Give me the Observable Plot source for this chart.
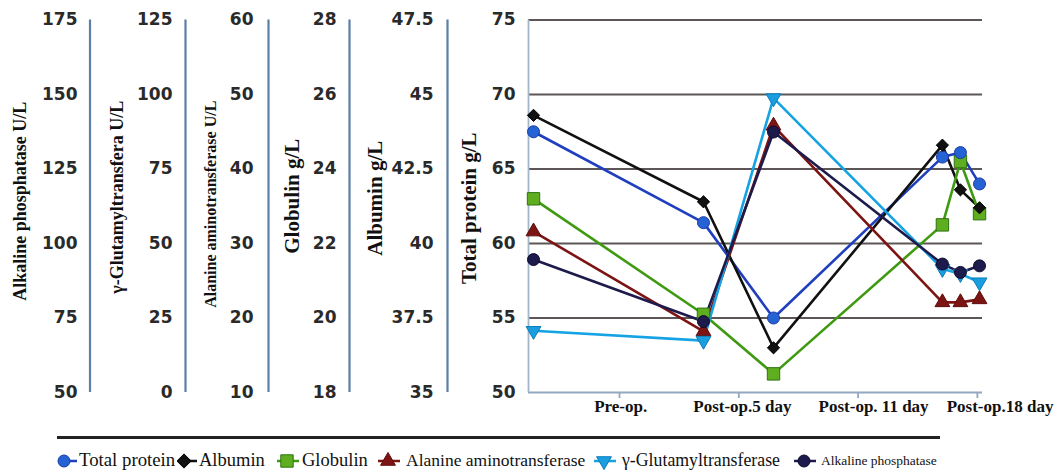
<!DOCTYPE html>
<html>
<head>
<meta charset="utf-8">
<script src="https://cdn.jsdelivr.net/npm/d3@7"></script>
<script src="https://cdn.jsdelivr.net/npm/@observablehq/plot@0.6"></script>
<style>
  html, body { margin: 0; padding: 0; background: #fff; }
  #wrap { position: relative; width: 1058px; height: 476px; overflow: hidden; }
  .leg { position: absolute; top: 449px; height: 22px; line-height: 22px; font-family: "Liberation Serif", "DejaVu Serif", serif; font-size: 18px; color: #111; white-space: nowrap; }
  .icon { position: absolute; top: 452px; }
</style>
</head>
<body>
<div id="wrap"></div>
<script>
// ---------- data ----------
const xTicks = [1, 2, 3, 4];
const xTickLabels = ["Pre-op.", "Post-op.5 day", "Post-op. 11 day", "Post-op.18 day"];
const xLabelPos = [1.01, 2.03, 3.13, 4.19];
const xPoints = [0.279, 1.704, 2.291, 3.707, 3.858, 4.018];

const seriesNames = ["Total protein", "Albumin", "Globulin", "Alanine aminotransferase", "γ-Glutamyltransferase", "Alkaline phosphatase"];

const totalProtein = [67.5, 61.4, 55.0, 65.8, 66.1, 64.0];
const albumin      = [44.3, 41.4, 36.5, 43.3, 41.8, 41.2];
const globulin     = [23.2, 20.1, 18.5, 22.5, 24.2, 22.8];
const alt          = [31.6, 18.2, 45.8, 22.1, 22.1, 22.5];
const ggt          = [20.7, 17.4, 98.8, 41.5, 39.8, 37.0];
const alp          = [94.6, 73.8, 137.4, 93.1, 90.3, 92.5];

const apTicks  = [50, 75, 100, 125, 150, 175];
const ggtTicks = [0, 25, 50, 75, 100, 125];
const altTicks = [10, 20, 30, 40, 50, 60];
const globTicks = [18, 20, 22, 24, 26, 28];
const albTicks = ["35", "37.5", "40", "42.5", "45", "47.5"];
const tpTicks  = [50, 55, 60, 65, 70, 75];
const gridTicks = [55, 60, 65, 70, 75];

// ---------- axes (each maps its own range onto the total protein scale) ----------
const TP0 = 50, TP1 = 75;
const axes = [
  {title: "Alkaline phosphatase U/L", ticks: apTicks, lo: 50, hi: 175, line: -438.5, lab: -451, tdx: -508, tdy: -5, ts: 18},
  {title: "γ-Glutamyltransfera U/L", ticks: ggtTicks, lo: 0, hi: 125, line: -343, lab: -356, tdx: -411, tdy: -9, ts: 18},
  {title: "Alanine aminotransferase U/L", ticks: altTicks, lo: 10, hi: 60, line: -260, lab: -275, tdx: -318, tdy: -2, ts: 16},
  {title: "Globulin g/L", ticks: globTicks, lo: 18, hi: 28, line: -179, lab: -192, tdx: -236, tdy: -10, ts: 21},
  {title: "Albumin g/L", ticks: albTicks, lo: 35, hi: 47.5, line: -81, lab: -95, tdx: -153, tdy: -8, ts: 21},
  {title: "Total protein g/L", ticks: tpTicks, lo: 50, hi: 75, line: 0, lab: -13, tdx: -59, tdy: 2, ts: 21}
];
const toTP = (v, lo, hi) => TP0 + (+v - lo) / (hi - lo) * (TP1 - TP0);

const seriesDefs = [
  {name: seriesNames[0], values: totalProtein, lo: 50, hi: 75, stroke: "#1f3fbe", fill: "#2563d4", mstroke: "#1a3aa8", symbol: "circle", r: 6, rotate: 0},
  {name: seriesNames[1], values: albumin, lo: 35, hi: 47.5, stroke: "#111111", fill: "#111111", mstroke: "#000", symbol: "diamond2", r: 5.5, rotate: 0},
  {name: seriesNames[2], values: globulin, lo: 18, hi: 28, stroke: "#3f9a12", fill: "#5fae1f", mstroke: "#2f7410", symbol: "square", r: 7, rotate: 0},
  {name: seriesNames[3], values: alt, lo: 10, hi: 60, stroke: "#7d1414", fill: "#7d1414", mstroke: "#5e0d0d", symbol: "triangle", r: 5.5, rotate: 0},
  {name: seriesNames[4], values: ggt, lo: 0, hi: 125, stroke: "#16a3e3", fill: "#1a9ee0", mstroke: "#0c7cba", symbol: "triangle", r: 5.5, rotate: 180},
  {name: seriesNames[5], values: alp, lo: 50, hi: 175, stroke: "#1d1a4c", fill: "#1d1a4c", mstroke: "#0d0b30", symbol: "circle", r: 6, rotate: 0}
];

const rows = seriesDefs.map(s => s.values.map((v, i) => ({series: s.name, x: xPoints[i], y: toTP(v, s.lo, s.hi), v})));

const xDomain = [0.237, 4.043];

const marks = [];
// gridlines
marks.push(Plot.ruleY(gridTicks, {stroke: "#5c5656", strokeWidth: 2}));
// bottom axis & ticks
marks.push(Plot.ruleY([TP0], {stroke: "#93a8c0", strokeWidth: 1.8}));
marks.push(Plot.axisX(xTicks, {tickSize: 6, tickFormat: () => "", stroke: "#93a8c0", strokeWidth: 1.8, label: null}));
marks.push(Plot.text(xTickLabels, {x: (d, i) => xLabelPos[i], text: d => d, frameAnchor: "bottom", dy: 19, fontFamily: "Liberation Serif, serif", fontWeight: "bold", fontSize: 17, fill: "#111"}));

// left axes
axes.forEach((a, k) => {
  marks.push(Plot.ruleX([xDomain[0]], {y1: TP0, y2: TP1, dx: a.line, stroke: k === 5 ? "#a3b5c9" : "#5b7fa6", strokeWidth: k === 5 ? 1.8 : 2.2}));
  marks.push(Plot.text(a.ticks, {y: d => toTP(d, a.lo, a.hi), text: d => String(d), frameAnchor: "left", textAnchor: "end", dx: a.lab, fontFamily: "DejaVu Sans, sans-serif", fontWeight: "bold", fontSize: 17, fill: "#2a2a2a"}));
  marks.push(Plot.text([a.title], {frameAnchor: "left", rotate: -90, dx: a.tdx, dy: a.tdy, fontFamily: "Liberation Serif, serif", fontWeight: "bold", fontSize: a.ts, fill: "#111", textAnchor: "middle"}));
});

// series
seriesDefs.forEach((s, k) => {
  marks.push(Plot.line(rows[k], {x: "x", y: "y", stroke: s.stroke, strokeWidth: 2.6}));
});
[2, 0, 1, 3, 4, 5].forEach(k => {
  const s = seriesDefs[k];
  marks.push(Plot.dot(rows[k], {x: "x", y: "y", symbol: s.symbol, r: s.r, rotate: s.rotate, fill: s.fill, stroke: s.mstroke, strokeWidth: 1}));
});

const chart = Plot.plot({
  width: 1058,
  height: 430,
  marginLeft: 528,
  marginRight: 76,
  marginTop: 19.5,
  marginBottom: 38,
  x: {type: "linear", domain: xDomain, axis: null},
  y: {type: "linear", domain: [TP0, TP1], axis: null},
  style: {background: "white", overflow: "visible"},
  marks
});

const wrap = document.getElementById("wrap");
wrap.appendChild(chart);

// ---------- legend ----------
const line = document.createElement("div");
line.style.cssText = "position:absolute;left:57px;top:436px;width:883px;height:2.5px;background:#222;";
wrap.appendChild(line);

const legIcon = [57, 177, 275, 376, 592, 792];
const legText = [79, 199, 302, 406, 622, 821];
const legSize = [18.8, 18.5, 18.5, 17.5, 17.8, 13.5];
seriesDefs.forEach((s, k) => {
  const w = 26;
  const svg = d3.create("svg").attr("class", "icon").attr("width", w).attr("height", 18)
    .style("left", legIcon[k] + "px");
  const cx = k <= 1 ? 7 : 12;
  svg.append("line").attr("x1", k <= 1 ? cx : 2).attr("x2", k <= 1 ? 20 : 24).attr("y1", 9).attr("y2", 9)
    .attr("stroke", s.stroke).attr("stroke-width", 2.5);
  const symMap = {circle: d3.symbolCircle, diamond2: d3.symbolSquare, square: d3.symbolSquare, triangle: d3.symbolTriangle};
  const rr = s.r;
  svg.append("path")
    .attr("d", d3.symbol(symMap[s.symbol], Math.PI * rr * rr)())
    .attr("transform", `translate(${cx},9) rotate(${s.symbol === "diamond2" ? 45 : s.rotate})`)
    .attr("fill", s.fill).attr("stroke", s.mstroke);
  wrap.appendChild(svg.node());
  const t = document.createElement("span");
  t.className = "leg";
  t.textContent = s.name;
  t.style.left = legText[k] + "px";
  t.style.fontSize = legSize[k] + "px";
  if (k === 5) t.style.top = "450px";
  wrap.appendChild(t);
});
</script>
</body>
</html>
